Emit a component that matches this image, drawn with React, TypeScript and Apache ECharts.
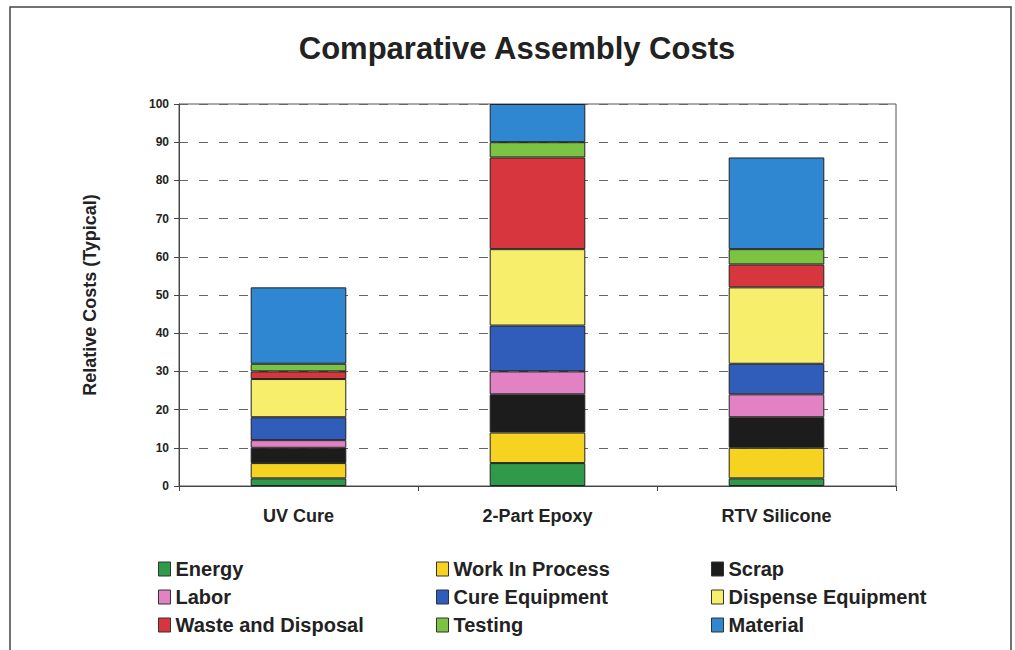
import React, { useEffect, useRef } from "react";
import * as echarts from "echarts";

const categories = ["UV Cure", "2-Part Epoxy", "RTV Silicone"];
const seriesNames = [
  "Energy",
  "Work In Process",
  "Scrap",
  "Labor",
  "Cure Equipment",
  "Dispense Equipment",
  "Waste and Disposal",
  "Testing",
  "Material",
];
const energy = [2, 6, 2];
const workInProcess = [4, 8, 8];
const scrap = [4, 10, 8];
const labor = [2, 6, 6];
const cureEquipment = [6, 12, 8];
const dispenseEquipment = [10, 20, 20];
const wasteAndDisposal = [2, 24, 6];
const testing = [2, 4, 4];
const material = [20, 10, 24];
const seriesValues = [
  energy,
  workInProcess,
  scrap,
  labor,
  cureEquipment,
  dispenseEquipment,
  wasteAndDisposal,
  testing,
  material,
];
const seriesColors = [
  "#2f9a4a",
  "#f6d320",
  "#1c1c1c",
  "#e281c4",
  "#2f5db9",
  "#f7ef6c",
  "#d7363f",
  "#7cc243",
  "#2f87d2",
];
const legendColumns = [
  ["Energy", "Labor", "Waste and Disposal"],
  ["Work In Process", "Cure Equipment", "Testing"],
  ["Scrap", "Dispense Equipment", "Material"],
];
const legendLefts = [153, 431, 706];

export default function App() {
  const ref = useRef<HTMLDivElement>(null);
  useEffect(() => {
    if (!ref.current) return;
    const chart = echarts.init(ref.current, null, { renderer: "svg" });
    const font = "'Liberation Sans', Arial, sans-serif";
    chart.setOption({
      animation: false,
      backgroundColor: "#ffffff",
      textStyle: { fontFamily: font },
      title: {
        text: "Comparative Assembly Costs",
        left: 512,
        textAlign: "center",
        top: 28,
        textStyle: { fontSize: 31, fontWeight: "bold", color: "#222", fontFamily: font },
      },
      grid: {
        left: 179,
        top: 104,
        width: 717,
        height: 382,
        show: true,
        borderColor: "#555",
        borderWidth: 1,
        backgroundColor: "transparent",
      },
      legend: legendColumns.map((col, i) => ({
        data: col,
        orient: "vertical",
        left: legendLefts[i],
        top: 553,
        itemWidth: 12,
        itemHeight: 14,
        itemGap: 6,
        icon: "rect",
        selectedMode: false,
        textStyle: {
          fontSize: 20,
          fontWeight: "bold",
          color: "#222",
          fontFamily: font,
          lineHeight: 22,
          padding: [0, 0, 0, 0],
        },
        itemStyle: { borderColor: "#333", borderWidth: 1 },
      })),
      xAxis: {
        type: "category",
        data: categories,
        axisLine: { lineStyle: { color: "#444", width: 1 } },
        axisTick: { show: true, length: 5, lineStyle: { color: "#444" } },
        axisLabel: {
          fontSize: 18,
          fontWeight: "bold",
          color: "#222",
          margin: 21,
          fontFamily: font,
        },
      },
      yAxis: {
        type: "value",
        min: 0,
        max: 100,
        interval: 10,
        name: "Relative Costs (Typical)",
        nameLocation: "middle",
        nameGap: 80,
        nameTextStyle: { fontSize: 18, fontWeight: "bold", color: "#222", fontFamily: font },
        axisLine: { show: true, lineStyle: { color: "#444", width: 1 } },
        axisTick: { show: true, length: 5, lineStyle: { color: "#444" } },
        axisLabel: {
          fontSize: 12,
          fontWeight: "bold",
          color: "#222",
          margin: 10,
          fontFamily: font,
        },
        splitLine: {
          show: true,
          lineStyle: { color: "#666", type: [9, 11], width: 1 },
        },
      },
      graphic: [
        {
          type: "rect",
          shape: { x: 10, y: 7, width: 1001, height: 660 },
          style: { fill: "none", stroke: "#444", lineWidth: 1.5 },
          silent: true,
        },
      ],
      series: seriesNames.map((name, i) => ({
        name,
        type: "bar",
        stack: "total",
        barWidth: "40%",
        data: seriesValues[i],
        itemStyle: { color: seriesColors[i], borderColor: "#222", borderWidth: 1 },
      })),
    });
    return () => chart.dispose();
  }, []);
  return (
    <div
      ref={ref}
      style={{ position: "fixed", left: 0, top: 0, width: 1015, height: 650 }}
    />
  );
}
